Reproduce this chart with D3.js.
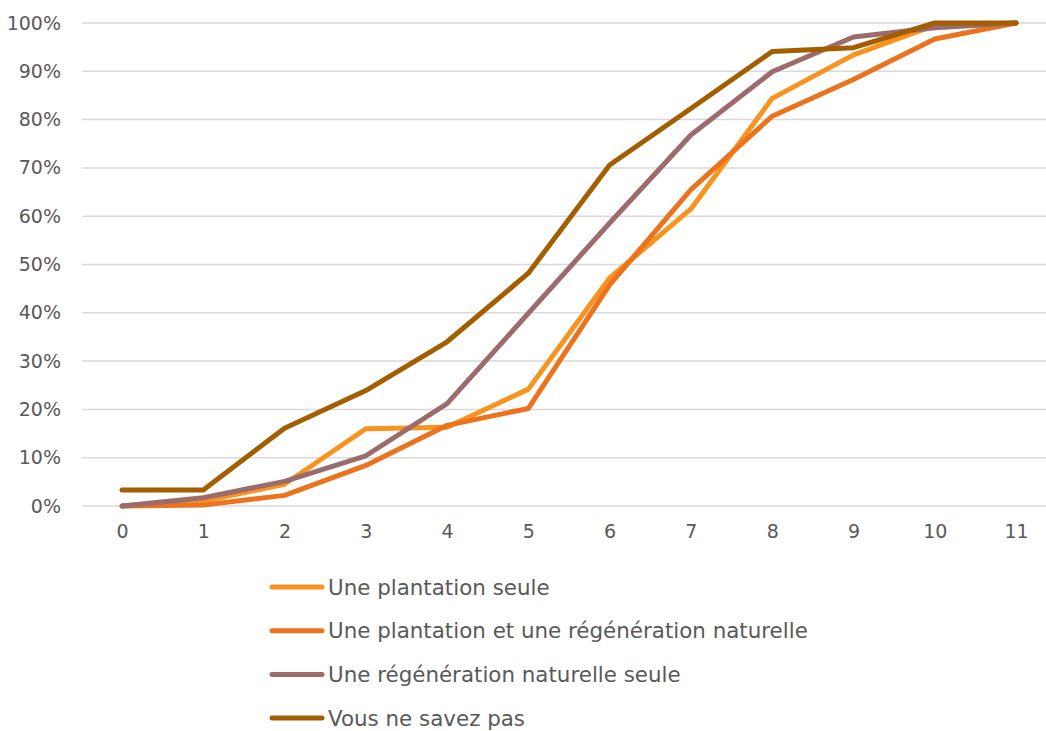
<!DOCTYPE html>
<html>
<head>
<meta charset="utf-8">
<script src="https://cdn.jsdelivr.net/npm/d3@7/dist/d3.min.js"></script>
<style>
  html, body { margin: 0; padding: 0; background: #fff; }
  svg { display: block; }
</style>
</head>
<body>
<svg id="chart" width="1046" height="731"></svg>
<script>
// Categories on the horizontal axis
const categories = [0, 1, 2, 3, 4, 5, 6, 7, 8, 9, 10, 11];

// Cumulative shares (%) per answer group
const plantationSeule   = [0, 1.0, 4.5, 16.0, 16.3, 24.2, 47.2, 61.5, 84.4, 93.4, 99.5, 100];
const plantationEtRegen = [0, 0.2, 2.2, 8.4, 16.7, 20.2, 45.8, 65.5, 80.7, 88.3, 96.7, 100];
const regenSeule        = [0, 1.7, 5.1, 10.4, 21.2, 39.9, 58.6, 76.8, 89.9, 97.1, 99.0, 100];
const neSaitPas         = [3.3, 3.3, 16.1, 23.9, 34.0, 48.2, 70.6, 82.3, 94.1, 94.9, 100, 100];

const yTicks = [0, 10, 20, 30, 40, 50, 60, 70, 80, 90, 100];

const series = [
  { name: "Une plantation seule", values: plantationSeule, color: "#F7931E" },
  { name: "Une plantation et une régénération naturelle", values: plantationEtRegen, color: "#EC731D" },
  { name: "Une régénération naturelle seule", values: regenSeule, color: "#9C6B6B" },
  { name: "Vous ne savez pas", values: neSaitPas, color: "#A35E00" }
];

const svg = d3.select("#chart");
const font = "'DejaVu Sans', Verdana, sans-serif";
const textColor = "#595959";

const x = d3.scaleLinear().domain([0, 11]).range([122, 1016]);
const y = d3.scaleLinear().domain([0, 100]).range([506, 23]);

// Horizontal gridlines
svg.append("g")
  .selectAll("line")
  .data(yTicks)
  .join("line")
  .attr("x1", 82).attr("x2", 1046)
  .attr("y1", d => y(d)).attr("y2", d => y(d))
  .attr("stroke", "#d9d9d9")
  .attr("stroke-width", 1.5);

// Y axis labels
const yAxis = d3.axisLeft(y).tickValues(yTicks).tickFormat(d => d + "%").tickSize(0).tickPadding(0);
const gy = svg.append("g").attr("transform", "translate(61,0)").call(yAxis);
gy.select(".domain").remove();
gy.selectAll("text")
  .attr("font-family", font).attr("font-size", 19).attr("fill", textColor);

// X axis labels
const xAxis = d3.axisBottom(x).tickValues(categories).tickFormat(d3.format("d")).tickSize(0).tickPadding(0);
const gx = svg.append("g").attr("transform", "translate(0,524)").call(xAxis);
gx.select(".domain").remove();
gx.selectAll("text")
  .attr("font-family", font).attr("font-size", 19).attr("fill", textColor);

// Series lines
const line = d3.line()
  .x((d, i) => x(categories[i]))
  .y(d => y(d));

svg.append("g")
  .selectAll("path")
  .data(series)
  .join("path")
  .attr("d", d => line(d.values))
  .attr("fill", "none")
  .attr("stroke", d => d.color)
  .attr("stroke-width", 5)
  .attr("stroke-linejoin", "round")
  .attr("stroke-linecap", "round");

// Legend
const legend = svg.append("g")
  .selectAll("g")
  .data(series)
  .join("g")
  .attr("transform", (d, i) => `translate(0,${587 + i * 43.7})`);

legend.append("line")
  .attr("x1", 272).attr("x2", 322)
  .attr("y1", 0).attr("y2", 0)
  .attr("stroke", d => d.color)
  .attr("stroke-width", 5)
  .attr("stroke-linecap", "round");

legend.append("text")
  .attr("x", 328).attr("y", 0)
  .attr("dy", "0.35em")
  .attr("font-family", font).attr("font-size", 21.4).attr("fill", textColor)
  .text(d => d.name);
</script>
</body>
</html>
